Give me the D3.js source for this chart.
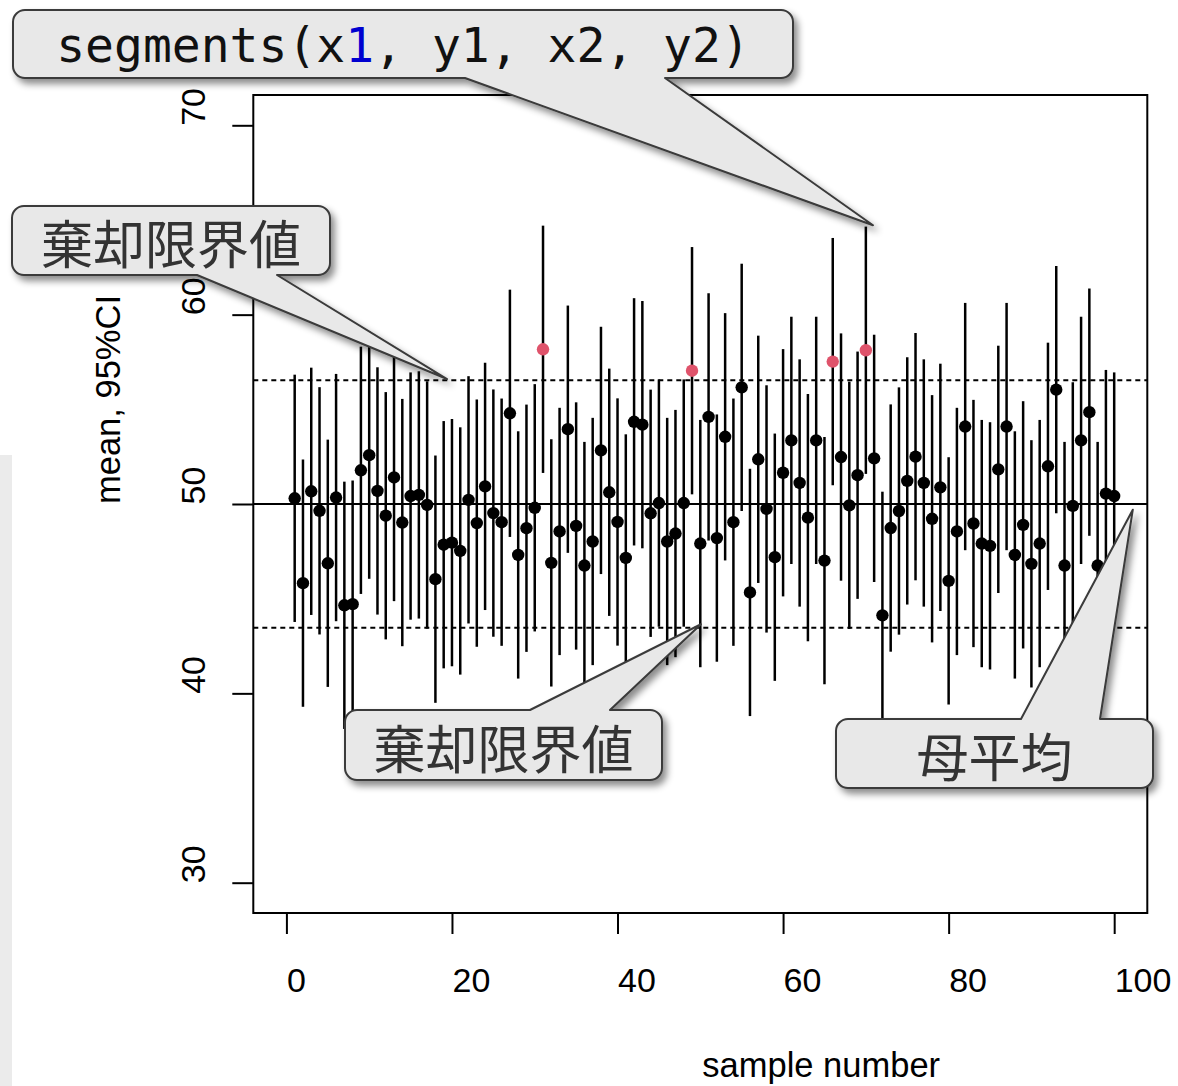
<!DOCTYPE html>
<html>
<head>
<meta charset="utf-8">
<script src="https://cdn.jsdelivr.net/npm/d3@7"></script>
<style>
  html, body { margin: 0; padding: 0; background: #fff; }
  svg { display: block; }
</style>
</head>
<body>
<svg id="chart" width="1178" height="1086"></svg>
<script>
// Sample means of 100 simulated samples (n = 9, sigma = 10, mu = 50)
const means = [
  50.30, 45.82, 50.67, 49.64, 46.87, 50.34, 44.65, 44.71, 51.78, 52.58,
  50.69, 49.38, 51.40, 49.02, 50.42, 50.48, 49.95, 46.03, 47.85, 47.96,
  47.52, 50.22, 48.99, 50.93, 49.52, 49.04, 54.79, 47.31, 48.72, 49.80,
  58.17, 46.89, 48.55, 53.95, 48.84, 46.75, 48.02, 52.83, 50.62, 49.05,
  47.15, 54.34, 54.19, 49.51, 50.05, 48.02, 48.44, 50.05, 57.04, 47.91,
  54.60, 48.20, 53.55, 49.04, 56.16, 45.33, 52.36, 49.74, 47.19, 51.65,
  53.36, 51.11, 49.28, 53.36, 47.01, 57.52, 52.48, 49.93, 51.52, 58.12,
  52.41, 44.12, 48.73, 49.63, 51.22, 52.50, 51.11, 49.22, 50.88, 45.94,
  48.55, 54.09, 48.97, 47.91, 47.79, 51.83, 54.09, 47.31, 48.90, 46.84,
  47.91, 51.99, 56.04, 46.75, 49.90, 53.36, 54.85, 46.75, 50.55, 50.42
];
const sampleIds = means.map((_, i) => i + 1);
const popMean = 50;
const ciHalf = 6.53;                 // 1.96 * 10 / sqrt(9)
const rejectLimits = [43.47, 56.53];

const xTicks = [0, 20, 40, 60, 80, 100];
const yTicks = [30, 40, 50, 60, 70];
const xTitle = "sample number";
const yTitle = "mean, 95%CI";

// Callout boxes: text, box rectangle, wedge base (on top or bottom edge), tip in data units
const callouts = [
  { label: "segments(x1, y1, x2, y2)", mono: true,  box: [13, 10, 780, 68],  edge: "bottom", base: [465, 665],  tip: [70.86, 64.72] },
  { label: "棄却限界値",               mono: false, box: [12, 206, 318, 69], edge: "bottom", base: [197, 277],  tip: [19.4, 56.6] },
  { label: "棄却限界値",               mono: false, box: [345, 710, 317, 70], edge: "top",   base: [530, 610],  tip: [50.08, 43.65] },
  { label: "母平均",                   mono: false, box: [836, 719, 317, 69], edge: "top",   base: [1021, 1100], tip: [102.25, 49.7] }
];

const svg = d3.select("#chart");
const plot = { left: 253.3, right: 1147.3, top: 95, bottom: 913 };

const x = d3.scaleLinear().domain([-4, 104]).range([plot.left, plot.right]);
const y = d3.scaleLinear().domain([28.4, 71.6]).range([plot.bottom, plot.top]);

// light gray strip at the left edge of the page
svg.append("rect").attr("x", 0).attr("y", 455).attr("width", 12).attr("height", 631).attr("fill", "#ebebeb");

const sansFont = "'Liberation Sans', Arial, Helvetica, sans-serif";

// axes
const xAxis = svg.append("g")
  .attr("transform", `translate(0,${plot.bottom})`)
  .call(d3.axisBottom(x).tickValues(xTicks).tickSize(21).tickFormat(d3.format("d")));
xAxis.select(".domain").remove();
xAxis.selectAll(".tick line").attr("stroke", "#000").attr("stroke-width", 2);
xAxis.selectAll(".tick text")
  .attr("y", 79).attr("dy", null).attr("text-anchor", "start")
  .attr("fill", "#000").style("font-family", sansFont).style("font-size", "34px");

const yAxis = svg.append("g")
  .attr("transform", `translate(${plot.left},0)`)
  .call(d3.axisLeft(y).tickValues(yTicks).tickSize(21).tickFormat(d3.format("d")));
yAxis.select(".domain").remove();
yAxis.selectAll(".tick line").attr("stroke", "#000").attr("stroke-width", 2);
yAxis.selectAll(".tick text")
  .attr("x", 0).attr("y", -48).attr("dy", null).attr("text-anchor", "start")
  .attr("transform", "rotate(-90)")
  .attr("fill", "#000").style("font-family", sansFont).style("font-size", "34px");

// axis titles
svg.append("text")
  .attr("x", (plot.left + plot.right) / 2 + 2).attr("y", 1077)
  .attr("text-anchor", "start")
  .style("font-family", sansFont).style("font-size", "34.5px")
  .text(xTitle);
svg.append("text")
  .attr("transform", `translate(120,${(plot.top + plot.bottom) / 2}) rotate(-90)`)
  .attr("text-anchor", "start")
  .style("font-family", sansFont).style("font-size", "34.5px")
  .text(yTitle);

// reference lines
svg.append("line")
  .attr("x1", plot.left).attr("x2", plot.right)
  .attr("y1", y(popMean)).attr("y2", y(popMean))
  .attr("stroke", "#000").attr("stroke-width", 2);
svg.selectAll("line.limit").data(rejectLimits).join("line")
  .attr("class", "limit")
  .attr("x1", plot.left).attr("x2", plot.right)
  .attr("y1", d => y(d)).attr("y2", d => y(d))
  .attr("stroke", "#000").attr("stroke-width", 2).attr("stroke-dasharray", "5,4");

// confidence interval segments
svg.selectAll("line.ci").data(sampleIds).join("line")
  .attr("class", "ci")
  .attr("x1", d => x(d)).attr("x2", d => x(d))
  .attr("y1", d => y(means[d - 1] - ciHalf)).attr("y2", d => y(means[d - 1] + ciHalf))
  .attr("stroke", "#000").attr("stroke-width", 2.5);

// sample means; red where the interval misses the population mean
const outside = m => m > rejectLimits[1] || m < rejectLimits[0];
svg.selectAll("circle.mean").data(sampleIds).join("circle")
  .attr("class", "mean")
  .attr("cx", d => x(d)).attr("cy", d => y(means[d - 1]))
  .attr("r", 6.2)
  .attr("fill", d => outside(means[d - 1]) ? "#DF536B" : "#000");

// plot frame
svg.append("rect")
  .attr("x", plot.left).attr("y", plot.top)
  .attr("width", plot.right - plot.left).attr("height", plot.bottom - plot.top)
  .attr("fill", "none").attr("stroke", "#000").attr("stroke-width", 2);

// callouts
const defs = svg.append("defs");
const shadow = defs.append("filter").attr("id", "shade")
  .attr("x", "-10%").attr("y", "-10%").attr("width", "130%").attr("height", "140%");
shadow.append("feDropShadow")
  .attr("dx", 4).attr("dy", 5).attr("stdDeviation", 3.5)
  .attr("flood-color", "#000").attr("flood-opacity", 0.45);

function calloutPath(c) {
  const [bx, by, bw, bh] = c.box;
  const r = 12;
  const tx = x(c.tip[0]), ty = y(c.tip[1]);
  const [b1, b2] = c.base;
  const p = d3.path();
  p.moveTo(bx + r, by);
  if (c.edge === "top") { p.lineTo(b1, by); p.lineTo(tx, ty); p.lineTo(b2, by); }
  p.lineTo(bx + bw - r, by);
  p.arcTo(bx + bw, by, bx + bw, by + r, r);
  p.lineTo(bx + bw, by + bh - r);
  p.arcTo(bx + bw, by + bh, bx + bw - r, by + bh, r);
  if (c.edge === "bottom") { p.lineTo(b2, by + bh); p.lineTo(tx, ty); p.lineTo(b1, by + bh); }
  p.lineTo(bx + r, by + bh);
  p.arcTo(bx, by + bh, bx, by + bh - r, r);
  p.lineTo(bx, by + r);
  p.arcTo(bx, by, bx + r, by, r);
  p.closePath();
  return p.toString();
}

const cg = svg.selectAll("g.callout").data(callouts).join("g").attr("class", "callout");
cg.append("path")
  .attr("d", calloutPath)
  .attr("fill", "#e8e8e8").attr("stroke", "#3a3a3a").attr("stroke-width", 2)
  .attr("stroke-linejoin", "round")
  .attr("filter", "url(#shade)");

cg.filter(d => !d.mono).append("text")
  .attr("x", d => d.box[0] + d.box[2] / 2)
  .attr("y", d => d.box[1] + d.box[3] / 2 + 1)
  .attr("text-anchor", "middle")
  .attr("dominant-baseline", "central")
  .attr("fill", "#333")
  .style("font-family", "'Noto Sans CJK JP', sans-serif")
  .style("font-size", "52px")
  .text(d => d.label);

// code label: the "1" of x1 is highlighted
cg.filter(d => d.mono).each(function (d) {
  const t = d3.select(this).append("text")
    .attr("x", d.box[0] + d.box[2] / 2)
    .attr("y", d.box[1] + 52)
    .attr("text-anchor", "middle")
    .attr("fill", "#111")
    .style("font-family", "'DejaVu Sans Mono', monospace")
    .style("font-size", "48px");
  const k = d.label.indexOf("x1") + 1;
  t.append("tspan").text(d.label.slice(0, k));
  t.append("tspan").attr("fill", "#0000d0").text(d.label.slice(k, k + 1));
  t.append("tspan").text(d.label.slice(k + 1));
});
</script>
</body>
</html>
